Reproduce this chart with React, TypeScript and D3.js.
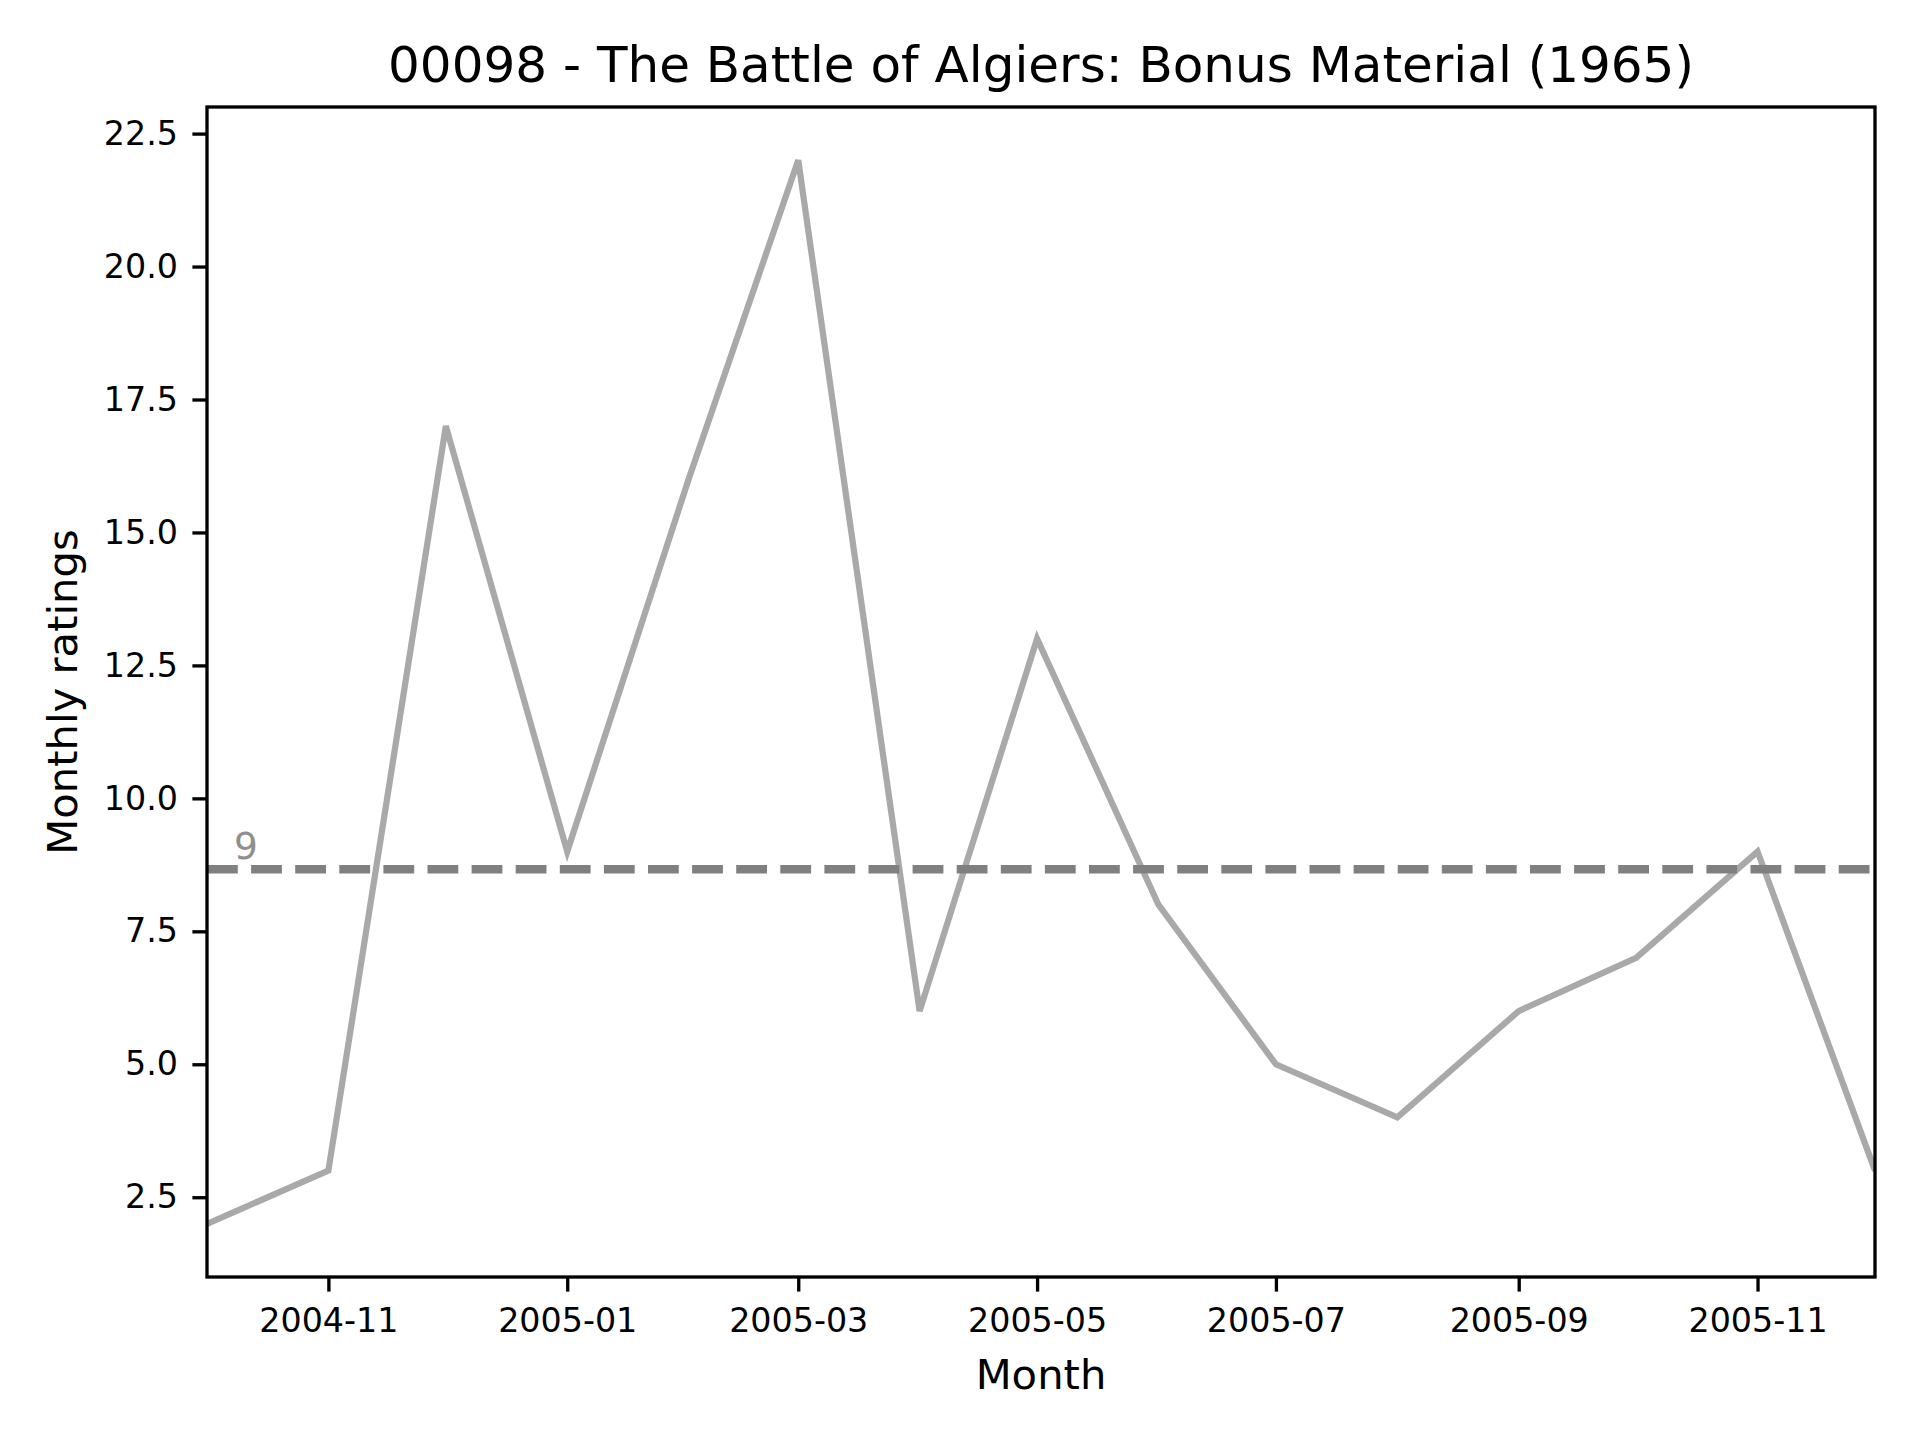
import React, { useEffect, useRef } from 'react';
import * as d3 from 'd3';

const title = '00098 - The Battle of Algiers: Bonus Material (1965)';
const months = [
  '2004-10', '2004-11', '2004-12', '2005-01', '2005-02', '2005-03', '2005-04', '2005-05',
  '2005-06', '2005-07', '2005-08', '2005-09', '2005-10', '2005-11', '2005-12',
];
const ratings = [2, 3, 17, 9, 16, 22, 6, 13, 8, 5, 4, 6, 7, 9, 3];
const yTicks = [2.5, 5, 7.5, 10, 12.5, 15, 17.5, 20, 22.5];
const yDomain = [1, 23];

const FONT = "'DejaVu Sans', sans-serif";

const App: React.FC = () => {
  const svgRef = useRef<SVGSVGElement>(null);

  useEffect(() => {
    if (!svgRef.current) return;
    const width = 1920;
    const height = 1440;
    const margin = { top: 107, right: 45, bottom: 163, left: 207 };
    const innerWidth = width - margin.left - margin.right;
    const innerHeight = height - margin.top - margin.bottom;

    const parse = d3.timeParse('%Y-%m');
    const data = months.map((m, i) => ({ date: parse(m) as Date, value: ratings[i] }));

    const svg = d3.select(svgRef.current);
    svg.selectAll('*').remove();
    svg.attr('width', width).attr('height', height);

    svg.append('rect').attr('width', width).attr('height', height).attr('fill', '#fff');

    const g = svg.append('g').attr('transform', `translate(${margin.left},${margin.top})`);

    const xScale = d3
      .scaleTime()
      .domain(d3.extent(data, (d) => d.date) as [Date, Date])
      .range([0, innerWidth]);

    const yScale = d3.scaleLinear().domain(yDomain).range([innerHeight, 0]);

    svg
      .append('defs')
      .append('clipPath')
      .attr('id', 'plot-clip')
      .append('rect')
      .attr('width', innerWidth)
      .attr('height', innerHeight);

    const plot = g.append('g').attr('clip-path', 'url(#plot-clip)');

    const line = d3
      .line<{ date: Date; value: number }>()
      .x((d) => xScale(d.date))
      .y((d) => yScale(d.value));

    plot
      .append('path')
      .datum(data)
      .attr('d', line)
      .attr('fill', 'none')
      .attr('stroke', '#a9a9a9')
      .attr('stroke-width', 6.25)
      .attr('stroke-linejoin', 'miter');

    // mean line
    const mean = d3.mean(ratings) || 0;
    plot
      .append('line')
      .attr('x1', 0)
      .attr('x2', innerWidth)
      .attr('y1', yScale(mean))
      .attr('y2', yScale(mean))
      .attr('stroke', '#808080')
      .attr('stroke-width', 8.33)
      .attr('stroke-dasharray', '30.8,13.3');

    g.append('text')
      .attr('x', 27)
      .attr('y', yScale(mean) - 10)
      .attr('font-family', FONT)
      .attr('font-size', 37.5)
      .attr('fill', '#8f8f8f')
      .text(d3.format('.0f')(mean));

    // axes
    const xAxis = g
      .append('g')
      .attr('transform', `translate(0,${innerHeight})`)
      .call(
        d3
          .axisBottom(xScale)
          .ticks(d3.timeMonth.every(2))
          .tickFormat((d) => d3.timeFormat('%Y-%m')(d as Date))
          .tickSize(14.6)
          .tickPadding(17)
      );

    const yAxis = g.append('g').call(
      d3
        .axisLeft(yScale)
        .tickValues(yTicks)
        .tickFormat(d3.format('.1f'))
        .tickSize(14.6)
        .tickPadding(14.5)
    );

    [xAxis, yAxis].forEach((ax) => {
      ax.select('.domain').remove();
      ax.selectAll('line').attr('stroke', '#000').attr('stroke-width', 3.33);
      ax.selectAll('text')
        .attr('font-family', FONT)
        .attr('font-size', 33.3)
        .attr('fill', '#000');
    });

    // frame
    g.append('rect')
      .attr('width', innerWidth)
      .attr('height', innerHeight)
      .attr('fill', 'none')
      .attr('stroke', '#000')
      .attr('stroke-width', 3.33);

    svg
      .append('text')
      .attr('x', margin.left + innerWidth / 2)
      .attr('y', 82)
      .attr('text-anchor', 'middle')
      .attr('font-family', FONT)
      .attr('font-size', 50)
      .text(title);

    svg
      .append('text')
      .attr('x', margin.left + innerWidth / 2)
      .attr('y', 1389)
      .attr('text-anchor', 'middle')
      .attr('font-family', FONT)
      .attr('font-size', 41.7)
      .text('Month');

    svg
      .append('text')
      .attr('transform', `translate(77,${margin.top + innerHeight / 2}) rotate(-90)`)
      .attr('text-anchor', 'middle')
      .attr('font-family', FONT)
      .attr('font-size', 41.7)
      .text('Monthly ratings');
  }, []);

  return (
    <svg
      ref={svgRef}
      style={{ position: 'absolute', left: 0, top: 0, display: 'block' }}
    />
  );
};

export default App;
